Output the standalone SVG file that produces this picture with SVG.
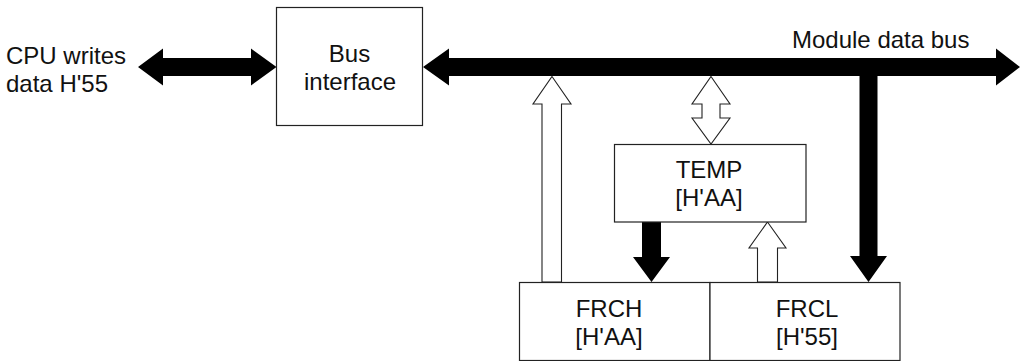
<svg xmlns="http://www.w3.org/2000/svg" width="1024" height="361" viewBox="0 0 1024 361">
  <style>
    .box { fill: #ffffff; stroke: #222222; stroke-width: 1.2; }
    .lbl { font-family: "Liberation Sans", Arial, sans-serif; font-size: 24px; fill: #111111; }
    .mid { text-anchor: middle; }
    .solid { fill: #000000; stroke: none; }
    .hollow { fill: #ffffff; stroke: #222222; stroke-width: 1.1; stroke-linejoin: miter; }
  </style>
  <rect x="0" y="0" width="1024" height="361" fill="#ffffff"/>

  <g id="cpu-label">
    <text class="lbl" x="6" y="64">CPU writes</text>
    <text class="lbl" x="6" y="92">data H'55</text>
  </g>

  <g id="module-bus-label">
    <text class="lbl" x="792" y="47.5">Module data bus</text>
  </g>

  <g id="connectors">
    <polygon class="solid" points="138,67 163,48.5 163,58 251,58 251,48.5 276.5,67 251,85.5 251,76 163,76 163,85.5"/>
    <polygon class="solid" points="423,67 449,48.5 449,58 996,58 996,48.5 1020,67 996,85.5 996,76 449,76 449,85.5"/>
    <polygon class="solid" points="859.5,70 877.5,70 877.5,256 887,256 868.5,282 850,256 859.5,256"/>
    <polygon class="hollow" points="552,76.5 571,104 561.5,104 561.5,282 542,282 542,104 533,104"/>
    <polygon class="hollow" points="711,76.5 730,104 720,104 720,118 730,118 711,144 692,118 702,118 702,104 692,104"/>
    <polygon class="hollow" points="767.5,222 786,248 777.5,248 777.5,282 757.5,282 757.5,248 749,248"/>
    <polygon class="solid" points="642,221 661,221 661,257 670,257 651.5,282 633,257 642,257"/>
  </g>

  <g id="bus-interface">
    <rect class="box" x="276.5" y="7.5" width="146" height="118"/>
    <text class="lbl mid" x="349.5" y="62">Bus</text>
    <text class="lbl mid" x="350" y="90">interface</text>
  </g>

  <g id="temp">
    <rect class="box" x="614.5" y="144.5" width="191.5" height="77.5"/>
    <text class="lbl mid" x="709" y="177.5">TEMP</text>
    <text class="lbl mid" x="709" y="206">[H'AA]</text>
  </g>

  <g id="frch">
    <rect class="box" x="519.5" y="282.5" width="190.5" height="78"/>
    <text class="lbl mid" x="609" y="317">FRCH</text>
    <text class="lbl mid" x="609" y="345">[H'AA]</text>
  </g>

  <g id="frcl">
    <rect class="box" x="710" y="282.5" width="190" height="78"/>
    <text class="lbl mid" x="807" y="317">FRCL</text>
    <text class="lbl mid" x="807" y="345">[H'55]</text>
  </g>
</svg>
